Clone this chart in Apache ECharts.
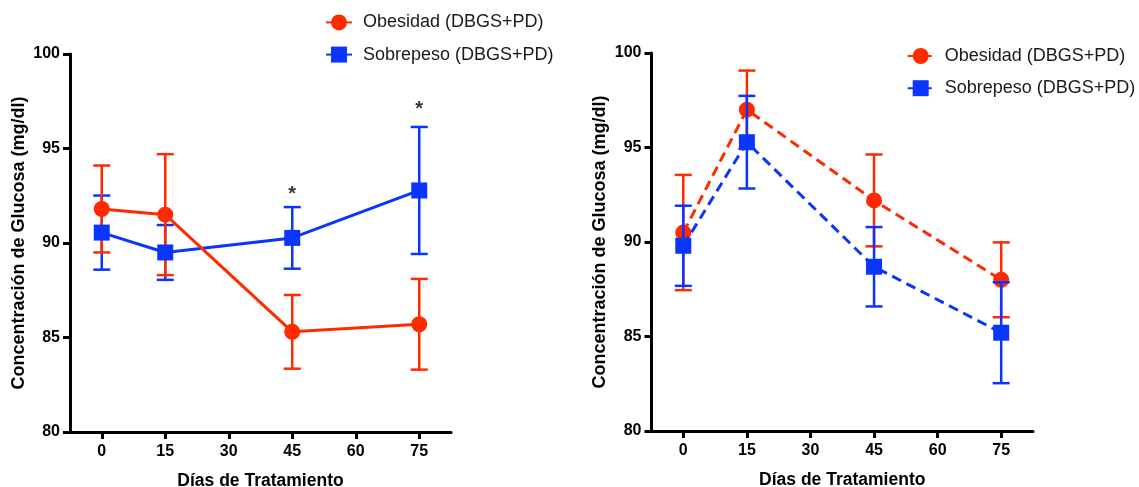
<!DOCTYPE html>
<html>
<head>
<meta charset="utf-8">
<script src="https://cdn.jsdelivr.net/npm/echarts@6/dist/echarts.min.js"></script>
<style>
html,body{margin:0;padding:0;background:#fff;}
#c{width:1139px;height:487px;}
</style>
</head>
<body>
<div id="c"></div>
<script>
// ---- data ----
const days = [0, 15, 45, 75];
const xTicks = [0, 15, 30, 45, 60, 75];
const seriesNames = ['Obesidad (DBGS+PD)', 'Sobrepeso (DBGS+PD)'];

// Left panel (solid lines)
const obesLeft = [91.8, 91.5, 85.3, 85.7];
const obesLeftErr = [2.3, 3.2, 1.95, 2.4];
const sobrLeft = [90.55, 89.5, 90.27, 92.78];
const sobrLeftErr = [1.96, 1.45, 1.63, 3.36];

// Right panel (dashed lines)
const obesRight = [90.5, 97.0, 92.2, 88.0];
const obesRightErr = [3.05, 2.07, 2.43, 1.98];
const sobrRight = [89.8, 95.28, 88.69, 85.2];
const sobrRightErr = [2.12, 2.45, 2.1, 2.67];

// significance marks (left panel)
const sigDays = [45, 75];
const sigY = [92.75, 97.2];
const sigLabel = ['*', '*'];

const RED = '#ff2a00';
const BLUE = '#0a35ff';
const FONT = '"Liberation Sans", Arial, Helvetica, sans-serif';

function pts(v) { return days.map((d, i) => [d, v[i]]); }
function errData(v, e) { return days.map((d, i) => [d, v[i] - e[i], v[i] + e[i]]); }

function errSeries(idx, v, e, color, z) {
  return {
    type: 'custom', xAxisIndex: idx, yAxisIndex: idx, z: z, silent: true,
    data: errData(v, e), encode: { x: 0, y: [1, 2] },
    renderItem: function (params, api) {
      const x = api.value(0);
      const lo = api.coord([x, api.value(1)]);
      const hi = api.coord([x, api.value(2)]);
      const hw = 8.5;
      const st = { stroke: color, lineWidth: 2.5 };
      return {
        type: 'group', children: [
          { type: 'line', shape: { x1: lo[0], y1: lo[1], x2: hi[0], y2: hi[1] }, style: st },
          { type: 'line', shape: { x1: lo[0] - hw, y1: lo[1], x2: lo[0] + hw, y2: lo[1] }, style: st },
          { type: 'line', shape: { x1: hi[0] - hw, y1: hi[1], x2: hi[0] + hw, y2: hi[1] }, style: st }
        ]
      };
    }
  };
}

function lineSeries(idx, name, v, color, symbol, dashed, z) {
  return {
    type: 'line', name: name, xAxisIndex: idx, yAxisIndex: idx, z: z,
    data: pts(v), symbol: symbol, symbolSize: 16, showSymbol: true,
    lineStyle: { color: color, width: 3, type: dashed ? [10, 6] : 'solid' },
    itemStyle: { color: color }
  };
}

function xAxisDef(idx) {
  return {
    type: 'value', gridIndex: idx, min: -7.5, max: 82.5,
    name: 'Días de Tratamiento', nameLocation: 'middle', nameGap: 40,
    nameTextStyle: { fontSize: 17.5, fontWeight: 'bold', color: '#000', fontFamily: FONT },
    axisLine: { onZero: false, lineStyle: { color: '#000', width: 3 } },
    axisTick: { show: true, length: 7, lineStyle: { color: '#000', width: 3 }, customValues: xTicks },
    axisLabel: { customValues: xTicks, margin: 12, fontSize: 16, fontWeight: 'bold', color: '#000', fontFamily: FONT },
    splitLine: { show: false }
  };
}
function yAxisDef(idx) {
  return {
    type: 'value', gridIndex: idx, min: 80, max: 100, interval: 5,
    name: 'Concentración de Glucosa (mg/dl)', nameLocation: 'middle', nameGap: 42,
    nameTextStyle: { fontSize: 18, fontWeight: 'bold', color: '#000', fontFamily: FONT },
    axisLine: { show: true, onZero: false, lineStyle: { color: '#000', width: 3 } },
    axisTick: { show: true, length: 7, lineStyle: { color: '#000', width: 3 } },
    axisLabel: { margin: 10, fontSize: 16, fontWeight: 'bold', color: '#000', fontFamily: FONT },
    splitLine: { show: false }
  };
}

const legendBase = {
  data: seriesNames, orient: 'vertical', padding: 0, itemWidth: 26, itemHeight: 20, itemGap: 14.2,
  textStyle: { fontSize: 18, color: '#1a1a1a', fontFamily: FONT, lineHeight: 18, padding: [0, 0, 0, 6] },
  selectedMode: false
};

const option = {
  animation: false,
  backgroundColor: '#fff',
  grid: [
    { left: 70, top: 54, width: 381, height: 378, outerBoundsMode: 'none', containLabel: false },
    { left: 651.5, top: 53, width: 381.5, height: 378, outerBoundsMode: 'none', containLabel: false }
  ],
  xAxis: [xAxisDef(0), xAxisDef(1)],
  yAxis: [yAxisDef(0), yAxisDef(1)],
  legend: [
    Object.assign({}, legendBase, { left: 325, top: 13.4 }),
    Object.assign({}, legendBase, { left: 906.7, top: 47, lineStyle: { type: [6, 3] } })
  ],
  series: [
    // left panel
    errSeries(0, sobrLeft, sobrLeftErr, BLUE, 2),
    errSeries(0, obesLeft, obesLeftErr, RED, 2),
    lineSeries(0, seriesNames[1], sobrLeft, BLUE, 'rect', false, 3),
    lineSeries(0, seriesNames[0], obesLeft, RED, 'circle', false, 4),
    {
      type: 'scatter', xAxisIndex: 0, yAxisIndex: 0, symbolSize: 0, silent: true, z: 5,
      data: sigDays.map((d, i) => ({ value: [d, sigY[i]], label: { formatter: sigLabel[i] } })),
      label: { show: true, position: 'inside', fontSize: 20, fontWeight: 'bold', color: '#000', fontFamily: FONT, offset: [0, 3] }
    },
    // right panel
    errSeries(1, obesRight, obesRightErr, RED, 2),
    lineSeries(1, seriesNames[0], obesRight, RED, 'circle', true, 3),
    errSeries(1, sobrRight, sobrRightErr, BLUE, 4),
    lineSeries(1, seriesNames[1], sobrRight, BLUE, 'rect', true, 5)
  ]
};

const chart = echarts.init(document.getElementById('c'), null, { renderer: 'canvas' });
chart.setOption(option);
</script>
</body>
</html>
